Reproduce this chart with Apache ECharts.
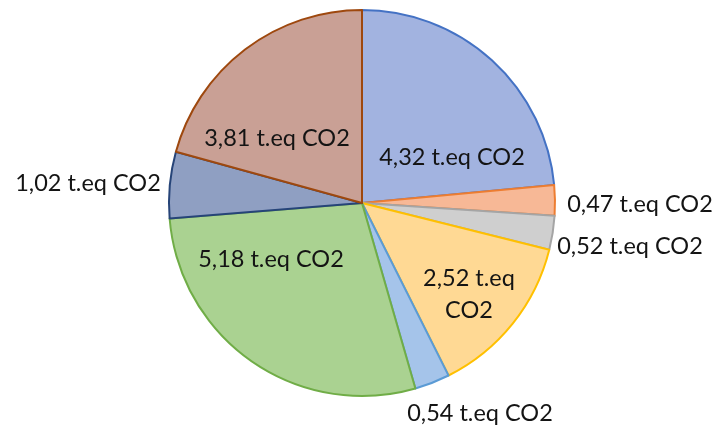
<!DOCTYPE html>
<html>
<head>
<meta charset="utf-8">
<script src="https://cdn.jsdelivr.net/npm/echarts@6/dist/echarts.min.js"></script>
<style>
html,body{margin:0;padding:0;background:#fff;}
#c{width:719px;height:429px;}
</style>
</head>
<body>
<div id="c"></div>
<script>
// Data (clockwise from 12 o'clock)
const values = [4.32, 0.47, 0.52, 2.52, 0.54, 5.18, 1.02, 3.81];
const unit = 't.eq CO2';

// Styles
const fills   = ['#a2b3e0', '#f7b896', '#cfcfcf', '#ffd994', '#a5c4ea', '#aad291', '#8f9fc2', '#c9a095'];
const borders = ['#4472c4', '#ed7d31', '#a5a5a5', '#ffc000', '#5b9bd5', '#70ad47', '#264478', '#9e480e'];
const labelXY = [[452,157],[640,204],[630,246],[469,294],[480,413],[271,259],[88,183],[277,138]];
const breakLabel = [false,false,false,true,false,false,false,false];

const chart = echarts.init(document.getElementById('c'));
chart.setOption({
  animation: false,
  series: [{
    type: 'pie',
    center: [362, 203],
    radius: [0, 193],
    startAngle: 90,
    clockwise: true,
    avoidLabelOverlap: false,
    labelLine: { show: false },
    label: {
      show: true,
      position: 'inside',
      color: '#141414',
      fontFamily: 'Lato',
      fontSize: 23.5,
      lineHeight: 32,
      formatter: p => {
        const v = values[p.dataIndex].toFixed(2).replace('.', ',');
        return breakLabel[p.dataIndex] ? v + ' t.eq\nCO2' : v + ' ' + unit;
      }
    },
    labelLayout: p => ({
      x: labelXY[p.dataIndex][0],
      y: labelXY[p.dataIndex][1],
      align: 'center',
      verticalAlign: 'middle'
    }),
    emphasis: { disabled: true },
    data: values.map((v, i) => ({
      value: v,
      itemStyle: { color: fills[i], borderColor: borders[i], borderWidth: 2 }
    }))
  }]
});
</script>
</body>
</html>
